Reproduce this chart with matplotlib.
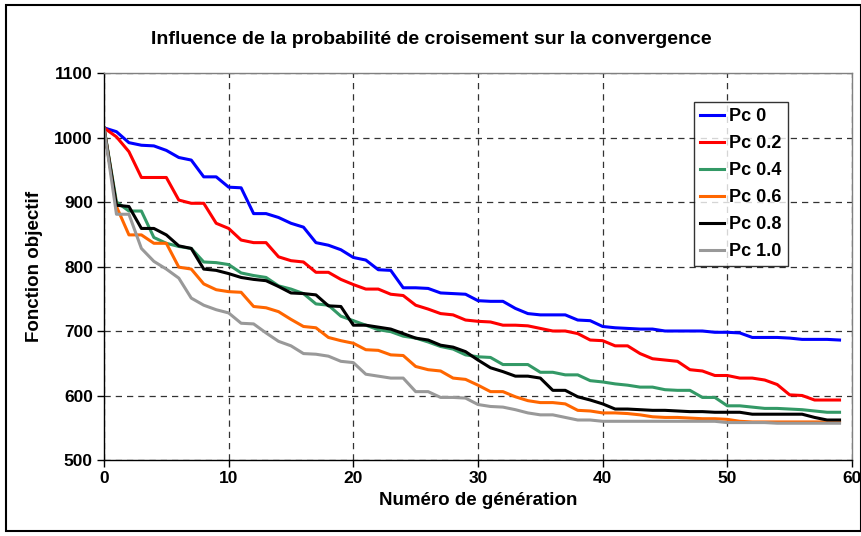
import numpy as np
import matplotlib
matplotlib.use("Agg")
from matplotlib import pyplot as plt
from matplotlib.patches import Rectangle

plt.rcParams['font.family'] = ['Liberation Sans', 'DejaVu Sans']
plt.rcParams['font.weight'] = 'bold'

# generation numbers
gen = np.arange(60)

# objective value per generation for each crossover probability
pc_00 = [1015, 1009, 992, 988, 987, 980, 969, 965, 939, 939,
         923, 922, 882, 882, 876, 867, 861, 837, 833, 826,
         814, 810, 795, 794, 767, 767, 766, 759, 758, 757,
         747, 746, 746, 735, 727, 725, 725, 725, 717, 716,
         707, 705, 704, 703, 703, 700, 700, 700, 700, 698,
         698, 697, 690, 690, 690, 689, 687, 687, 687, 686]
pc_02 = [1015, 1001, 978, 938, 938, 938, 903, 898, 898, 867,
         859, 841, 837, 837, 815, 809, 807, 791, 791, 780,
         772, 765, 765, 757, 755, 740, 734, 727, 725, 717,
         715, 714, 709, 709, 708, 704, 700, 700, 696, 686,
         685, 677, 677, 665, 657, 655, 653, 640, 638, 631,
         631, 627, 627, 624, 617, 601, 600, 593, 593, 593]
pc_04 = [1015, 900, 886, 886, 845, 836, 831, 828, 807, 806,
         803, 790, 786, 783, 770, 765, 758, 742, 740, 723,
         716, 709, 702, 699, 692, 689, 683, 676, 672, 663,
         660, 659, 648, 648, 648, 636, 636, 632, 632, 623,
         621, 618, 616, 613, 613, 609, 608, 608, 597, 597,
         584, 584, 582, 580, 580, 579, 578, 576, 574, 574]
pc_06 = [1015, 893, 849, 849, 836, 836, 799, 796, 773, 764,
         761, 760, 738, 736, 730, 718, 707, 705, 690, 685,
         681, 671, 670, 663, 662, 645, 640, 638, 627, 625,
         616, 606, 606, 598, 592, 589, 589, 587, 577, 576,
         573, 573, 572, 570, 567, 566, 566, 565, 564, 564,
         563, 560, 559, 559, 559, 559, 559, 559, 559, 559]
pc_08 = [1015, 895, 893, 859, 859, 849, 832, 828, 796, 794,
         789, 783, 780, 778, 769, 759, 758, 756, 739, 738,
         709, 709, 706, 703, 696, 689, 686, 678, 675, 668,
         655, 643, 637, 630, 630, 627, 608, 608, 598, 593,
         587, 579, 579, 578, 577, 577, 576, 575, 575, 574,
         574, 574, 571, 571, 571, 571, 571, 566, 562, 562]
pc_10 = [1015, 881, 881, 828, 808, 796, 782, 751, 740, 733,
         728, 712, 711, 697, 684, 677, 665, 664, 661, 653,
         651, 633, 630, 627, 627, 606, 606, 597, 597, 596,
         586, 583, 582, 578, 573, 570, 570, 566, 562, 562,
         560, 560, 560, 560, 560, 560, 560, 560, 560, 560,
         558, 558, 558, 558, 557, 557, 557, 557, 557, 557]

series = [pc_00, pc_02, pc_04, pc_06, pc_08, pc_10]
labels = ['Pc 0', 'Pc 0.2', 'Pc 0.4', 'Pc 0.6', 'Pc 0.8', 'Pc 1.0']
colors = ['#0000FF', '#FF0000', '#339966', '#FF6600', '#000000', '#999999']

fig = plt.figure(figsize=(8.62, 5.36), dpi=100)
ax = fig.add_axes([104/862, 1 - 460/536, 748/862, 387/536])

for vals, lab, col in zip(series, labels, colors):
    ax.plot(gen, vals, color=col, linewidth=2.2, label=lab)

ax.set_xlim(0, 60)
ax.set_ylim(500, 1100)
ax.set_xticks(range(0, 61, 10))
ax.set_yticks(range(500, 1101, 100))
ax.grid(True, color='#333333', linestyle=(0, (5, 4)), linewidth=0.9)
ax.set_axisbelow(True)

# axis frame: black left/bottom, grey top/right
ax.spines['left'].set_color('black')
ax.spines['bottom'].set_color('black')
ax.spines['top'].set_color('#808080')
ax.spines['right'].set_color('#808080')
for s in ax.spines.values():
    s.set_linewidth(1.0)

ax.tick_params(direction='out', length=5, width=1, labelsize=12.5, pad=3)
for t in ax.get_xticklabels() + ax.get_yticklabels():
    t.set_fontweight('bold')

ax.set_xlabel('Numéro de génération', fontsize=13.5, fontweight='bold', labelpad=4)
ax.set_ylabel('Fonction objectif', fontsize=13.5, fontweight='bold', labelpad=8)
fig.text(431/862, 1 - 40/536, 'Influence de la probabilité de croisement sur la convergence',
         ha='center', va='center', fontsize=14, fontweight='bold')

leg = ax.legend(loc='upper left', bbox_to_anchor=((694-104)/748, (460-102)/387),
                fontsize=13, frameon=True, fancybox=False, borderpad=0.35,
                handlelength=1.3, handletextpad=0.3, labelspacing=0.55,
                borderaxespad=0)
leg.get_frame().set_edgecolor('black')
leg.get_frame().set_linewidth(1.0)
for t in leg.get_texts():
    t.set_fontweight('bold')

# chart border
fig.patches.append(Rectangle((6/862, 1 - 531/536), 855/862, 526/536,
                             transform=fig.transFigure, fill=False,
                             edgecolor='black', linewidth=1.5))

fig.savefig('out.png', dpi=100)
